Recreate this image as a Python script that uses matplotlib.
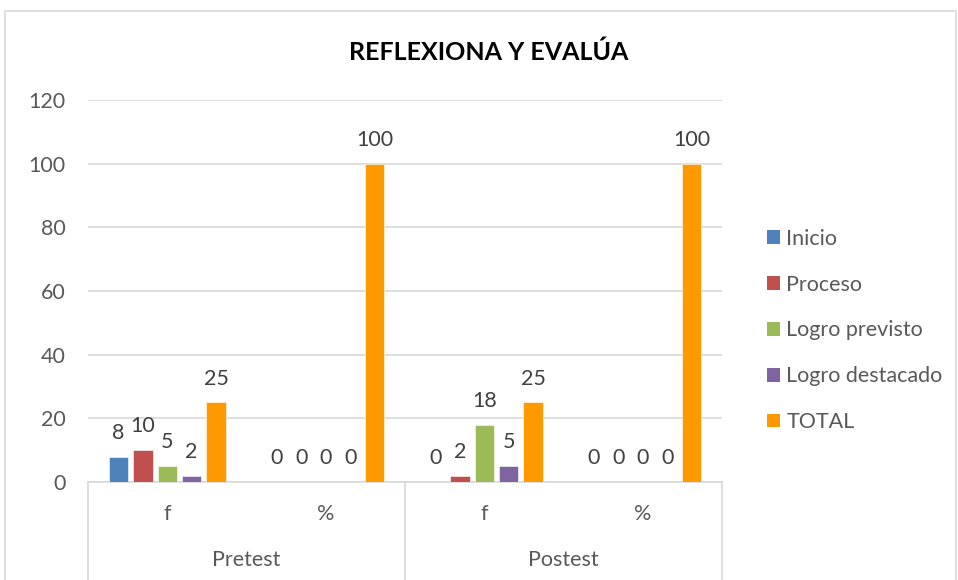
import matplotlib.pyplot as plt
from matplotlib.patches import Rectangle, Patch
from matplotlib.lines import Line2D
import numpy as np

plt.rcParams["font.family"] = ["Lato", "DejaVu Sans"]

groups = ["f", "%", "f", "%"]
tests = ["Pretest", "Postest"]
series = ["Inicio", "Proceso", "Logro previsto", "Logro destacado", "TOTAL"]
inicio = [8, 0, 0, 0]
proceso = [10, 0, 2, 0]
logro_previsto = [5, 0, 18, 0]
logro_destacado = [2, 0, 5, 0]
total = [25, 100, 25, 100]
colors = ["#4F81BD", "#C0504D", "#9BBB59", "#8064A2", "#FF9900"]

text_color = "#595959"
grid_color = "#D9D9D9"
fs = 15.5

fig = plt.figure(figsize=(9.58, 5.8), dpi=100)
ax = fig.add_axes([88 / 958, 1 - 482 / 580, (722 - 88) / 958, (482 - 100) / 580])

# chart border
fig.patches.append(Rectangle((5 / 958, -0.05), 951 / 958, 1.05 - 11 / 580,
                             transform=fig.transFigure, fill=False,
                             edgecolor=grid_color, linewidth=1.2))

x = np.arange(len(groups))
pitch = 24.4 / 158.5
width = 19.5 / 158.5
values = [inicio, proceso, logro_previsto, logro_destacado, total]
for i, (name, vals, c) in enumerate(zip(series, values, colors)):
    pos = x + (i - 2) * pitch
    ax.bar(pos, vals, width, color=c, label=name, zorder=3,
           edgecolor="white", linewidth=0.4)
    for px, v in zip(pos, vals):
        ax.annotate(str(v), (px, v), xytext=(0, 10), textcoords="offset points",
                    ha="center", va="bottom", fontsize=fs, color="#404040")

ax.set_xlim(-0.5, 3.5)
ax.set_ylim(0, 120)
ax.set_yticks(range(0, 121, 20))
ax.yaxis.grid(True, color=grid_color, linewidth=1.2, zorder=0)
ax.tick_params(axis="y", length=0, pad=16, labelsize=fs, labelcolor=text_color)
ax.set_xticks(x)
ax.set_xticklabels(groups)
ax.tick_params(axis="x", length=0, pad=16, labelsize=fs, labelcolor=text_color)
for s in ["left", "right", "top"]:
    ax.spines[s].set_visible(False)
ax.spines["bottom"].set_color(grid_color)
ax.spines["bottom"].set_linewidth(1.2)

# two-level category axis
trans = ax.get_xaxis_transform()
for xv in [-0.5, 1.5, 3.5]:
    ax.add_line(Line2D([xv, xv], [0, -0.27], transform=trans, color=grid_color,
                       linewidth=1.2, clip_on=False))
for k, t in enumerate(tests):
    ax.text(0.5 + 2 * k, -0.205, t, transform=trans, ha="center", va="center",
            fontsize=fs, color=text_color)

fig.text(489 / 958, 1 - 52 / 580, "REFLEXIONA Y EVALÚA", ha="center", va="center",
         fontsize=18, fontweight="bold", color="black")

handles = [Patch(facecolor=c, label=n) for n, c in zip(series, colors)]
fig.legend(handles=handles, loc="upper left", bbox_to_anchor=(756 / 958, 1 - 218 / 580),
           frameon=False, fontsize=fs, labelcolor=text_color, handlelength=0.6,
           handleheight=0.6, handletextpad=0.3, labelspacing=1.2, borderpad=0)

fig.savefig("out.png", dpi=100)
